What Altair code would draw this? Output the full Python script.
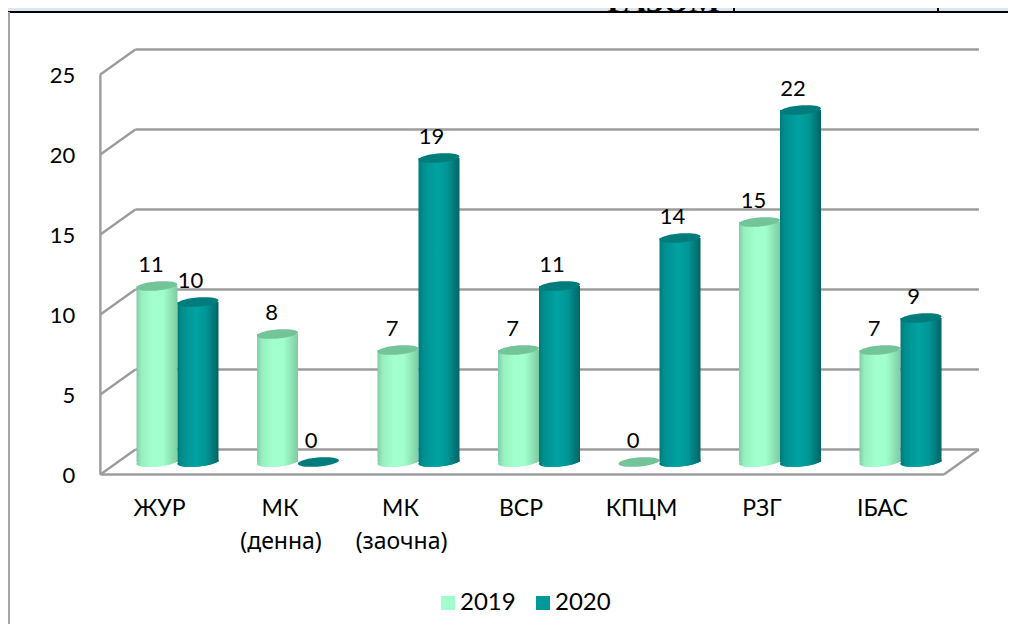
import altair as alt
import pandas as pd

categories = ["ЖУР", "МК\n(денна)", "МК\n(заочна)", "ВСР", "КПЦМ", "РЗГ", "ІБАС"]
values_2019 = [11, 8, 7, 7, 0, 15, 7]
values_2020 = [10, 0, 19, 11, 14, 22, 9]
y_ticks = [0, 5, 10, 15, 20, 25]
FONT = "Lato, 'Noto Sans', sans-serif"

W, H = 1000, 616
STEP = 120.5          # px per category
UNIT = 16.0           # px per value unit
X0, Y0 = 169.5, 454.0 # pixel of category 0 / of value 0 in the chart
DEPTH_Y = 12.5 / UNIT

xs = alt.Scale(domain=[-X0 / STEP, (W - X0) / STEP], range=[0, W], nice=False, zero=False)
ys = alt.Scale(domain=[(Y0 - H) / UNIT, Y0 / UNIT], range=[H, 0], nice=False, zero=False)
X = lambda f: alt.X(f, type="quantitative", scale=xs, axis=None)
Y = lambda f: alt.Y(f, type="quantitative", scale=ys, axis=None)

n = len(categories)
front_l, front_r = -0.64, 6.36
back_l, back_r = front_l + 35 / STEP, front_r + 35 / STEP

# walls
segs = []
for t in y_ticks:
    segs.append(dict(x=back_l, x2=back_r, y=t + DEPTH_Y, y2=t + DEPTH_Y))
    segs.append(dict(x=front_l, x2=back_l, y=t - DEPTH_Y, y2=t + DEPTH_Y))
segs.append(dict(x=front_l, x2=front_l, y=-DEPTH_Y, y2=25 - DEPTH_Y))
segs.append(dict(x=front_l, x2=front_r, y=-DEPTH_Y, y2=-DEPTH_Y))
segs.append(dict(x=front_r, x2=back_r, y=-DEPTH_Y, y2=DEPTH_Y))
grid = alt.Chart(pd.DataFrame(segs)).mark_rule(color="#9c9c9c", strokeWidth=2.4).encode(
    x=X("x"), x2="x2", y=Y("y"), y2="y2")

# tick labels
tick_df = pd.DataFrame({"t": y_ticks, "x": [front_l - 25 / STEP] * len(y_ticks),
                        "y": [t - DEPTH_Y - 1.5 / UNIT for t in y_ticks]})
tick_labels = alt.Chart(tick_df).mark_text(align="right", baseline="middle", font=FONT, fontSize=22,
                                           color="#000000").encode(x=X("x"), y=Y("y"), text="t:Q")

# category labels
rows, rows2 = [], []
for i, c in enumerate(categories):
    for j, line in enumerate(c.split("\n")):
        (rows2 if j else rows).append(dict(label=line, x=i - (18 if j == 0 else 17) / STEP,
                                           y=-DEPTH_Y - (34.5 + 33 * j) / UNIT))
cat_labels = alt.Chart(pd.DataFrame(rows)).mark_text(align="center", baseline="middle", font=FONT, fontSize=23,
                                                     color="#000000").encode(x=X("x"), y=Y("y"), text="label:N")
cat_labels2 = alt.Chart(pd.DataFrame(rows2)).mark_text(align="center", baseline="middle", font="Noto Sans",
                                                       fontSize=23, color="#000000").encode(
    x=X("x"), y=Y("y"), text="label:N")

ELLIPSE = "M-1,0.07 A1,0.22,-5,1,1,1,-0.07 A1,0.22,-5,1,1,-1,0.07 Z"
SIZE = 41 ** 2


def grad(stops):
    return alt.Gradient(gradient="linear", x1=0, x2=1, y1=0, y2=0,
                        stops=[alt.GradientStop(offset=o, color=c) for o, c in stops])


def series(name, vals, off, body, top):
    df = pd.DataFrame({"series": name, "v": vals, "zero": 0.0,
                       "c": [i + off / STEP for i in range(n)],
                       "l": [i + (off - 20.5) / STEP for i in range(n)],
                       "r": [i + (off + 20.5) / STEP for i in range(n)]})
    df["lx"] = [i + (-26.5 if off < 0 else 13) / STEP for i in range(n)]
    df["ly"] = df["v"] + 21.5 / UNIT
    pos = df[df.v > 0]
    color = alt.Color("series:N", scale=alt.Scale(domain=["2019", "2020"], range=["#A0FFCC", "#009999"]),
                      legend=alt.Legend(orient="none", legendX=428, legendY=583, direction="horizontal",
                                        title=None, symbolType="square", symbolSize=196, symbolStrokeWidth=0,
                                        labelFont=FONT, labelFontSize=24, labelColor="#000000",
                                        columnPadding=15, labelOffset=0, symbolOpacity=1))
    base = alt.Chart(pos).mark_point(shape=ELLIPSE, size=SIZE, filled=True, opacity=1, strokeWidth=0).encode(
        x=X("c"), y=Y("zero"), color=color)
    shade = alt.Chart(pos).mark_point(shape=ELLIPSE, size=SIZE, opacity=1, strokeWidth=0, fill=grad(body)).encode(
        x=X("c"), y=Y("zero"))
    bar = alt.Chart(pos).mark_bar(color=grad(body), opacity=1).encode(x=X("l"), x2="r", y=Y("v"), y2="zero")
    cap = alt.Chart(df).mark_point(shape=ELLIPSE, size=SIZE, filled=True, color=top, opacity=1, strokeWidth=0).encode(
        x=X("c"), y=Y("v"))
    lab = alt.Chart(df).mark_text(align="center", baseline="middle", font=FONT, fontSize=22,
                                  color="#000000").encode(x=X("lx"), y=Y("ly"), text="v:Q")
    return base, shade, bar, cap, lab


a = series("2019", values_2019, -20.5,
           [(0, "#80CCA3"), (0.12, "#96EFBF"), (0.4, "#A2FFCE"), (0.65, "#A0FFCC"), (1, "#7FCBA2")],
           "#74C49A")
b = series("2020", values_2020, 20.5,
           [(0, "#007A7A"), (0.12, "#008F8F"), (0.45, "#00A3A3"), (0.7, "#009595"), (1, "#006464")],
           "#007C7C")

# table fragment above the chart
band_df = pd.DataFrame({"x": [-X0 / STEP], "x2": [(W - X0) / STEP], "y": [Y0 / UNIT], "y2": [(Y0 - 4) / UNIT]})
band = alt.Chart(band_df).mark_rect(color="#DCE6F2").encode(x=X("x"), x2="x2", y=Y("y"), y2="y2")
top_df = pd.DataFrame({"x": [-X0 / STEP], "x2": [(W - X0) / STEP], "y": [(Y0 - 4) / UNIT]})
top_rule = alt.Chart(top_df).mark_rule(color="#000000", strokeWidth=2).encode(x=X("x"), x2="x2", y=Y("y"))
left_df = pd.DataFrame({"x": [(1 - X0) / STEP], "y": [(Y0 - 4) / UNIT], "y2": [(Y0 - H) / UNIT]})
left_rule = alt.Chart(left_df).mark_rule(color="#A6A6A6", strokeWidth=2).encode(x=X("x"), y=Y("y"), y2="y2")
sep_df = pd.DataFrame({"x": [(726 - X0) / STEP, (930 - X0) / STEP], "y": [Y0 / UNIT] * 2, "y2": [(Y0 - 4) / UNIT] * 2})
sep = alt.Chart(sep_df).mark_rule(color="#000000", strokeWidth=2).encode(x=X("x"), y=Y("y"), y2="y2")
title_df = pd.DataFrame({"t": ["РАЗОМ"], "x": [(655.5 - X0) / STEP], "y": [(Y0 - 3.5) / UNIT]})
title_txt = alt.Chart(title_df).mark_text(font="Liberation Serif", fontSize=33, fontWeight="bold", baseline="alphabetic",
                                          align="center", color="#000000").encode(x=X("x"), y=Y("y"), text="t:N")

chart = alt.layer(band, title_txt, sep, top_rule, left_rule, grid, tick_labels, cat_labels, cat_labels2,
                  a[0], a[1], a[2], a[3], b[0], b[1], b[2], b[3], a[4], b[4]).properties(
    width=W, height=H, padding=0, autosize=alt.AutoSizeParams(type="none"),
).configure_view(stroke=None)

chart.save("out.html", embed_options={"renderer": "svg", "actions": False})
